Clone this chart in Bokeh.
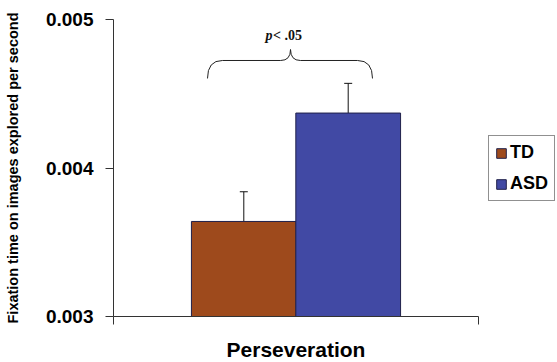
from bokeh.plotting import figure
from bokeh.models import (Range1d, FixedTicker, Whisker, ColumnDataSource, Legend,
                          LegendItem, Label, TeeHead)
from bokeh.embed import file_html
from bokeh.resources import INLINE

# ---- data ----
groups = ["TD", "ASD"]
means = [0.00364, 0.00437]
errors = [0.0002, 0.0002]
colors = ["#9E4A1C", "#4149A4"]
category = "Perseveration"
y_ticks = [0.003, 0.004, 0.005]
p_text = "< .05"

# positions (layout)
xc = [0.357, 0.643]
bw = 0.287

p = figure(frame_width=365, frame_height=297, output_backend="svg", toolbar_location=None,
           x_range=Range1d(0, 1), y_range=Range1d(0.003, 0.005),
           min_border_left=113, min_border_right=0, min_border_top=19,
           min_border_bottom=46)
p.outline_line_color = None
p.xgrid.visible = False
p.ygrid.visible = False
p.background_fill_color = "white"

renderers = []
for i, g in enumerate(groups):
    src = ColumnDataSource(dict(x=[xc[i]], top=[means[i]]))
    r = p.vbar(x="x", top="top", bottom=0.003, width=bw, source=src,
               fill_color=colors[i], line_color="#20204a", line_width=1)
    renderers.append(r)

esrc = ColumnDataSource(dict(x=xc, lo=[m - e for m, e in zip(means, errors)],
                             hi=[m + e for m, e in zip(means, errors)]))
w = Whisker(base="x", lower="lo", upper="hi", source=esrc, line_color="#111111",
            line_width=1,
            lower_head=TeeHead(size=8, line_color="#111111", line_width=1),
            upper_head=TeeHead(size=8, line_color="#111111", line_width=1))
p.add_layout(w)

# brace annotation (significance bracket)
x0, x1 = 0.2575, 0.7096
xm = 0.485
yb, yh, yp = 0.004603, 0.004724, 0.004798
d = 0.041
e = 0.027
p.quadratic(x0=[x0, xm - e, xm, x1 - d],
            y0=[yb, yh, yp, yh],
            x1=[x0 + d, xm, xm + e, x1],
            y1=[yh, yp, yh, yb],
            cx=[x0, xm, xm, x1],
            cy=[yh, yh, yh, yh], line_color="#222222", line_width=1)
p.segment(x0=[x0 + d, xm + e], y0=[yh, yh], x1=[xm - e, x1 - d], y1=[yh, yh],
          line_color="#222222", line_width=1)
p.add_layout(Label(x=0.4164, y=0.004892, text="p", text_font="Liberation Serif",
                   text_font_style="bold italic", text_font_size="14px",
                   text_baseline="middle", text_color="#111111"))
p.add_layout(Label(x=0.437, y=0.004892, text=p_text,
                   text_font="Liberation Serif", text_font_style="bold",
                   text_font_size="14px",
                   text_baseline="middle", text_color="#111111"))

# axes
p.yaxis.ticker = FixedTicker(ticks=y_ticks)
p.yaxis.major_label_overrides = {t: f"{t:.3f}" for t in y_ticks}
p.yaxis.major_label_text_font = "Liberation Sans"
p.yaxis.major_label_text_font_style = "bold"
p.yaxis.major_label_text_font_size = "19px"
p.yaxis.major_label_text_color = "black"
p.yaxis.major_tick_out = 8
p.yaxis.major_tick_in = 0
p.yaxis.minor_tick_line_color = None
p.yaxis.axis_line_color = "#333333"
p.yaxis.major_tick_line_color = "#333333"
p.yaxis.major_label_standoff = 12
p.yaxis.axis_label = "Fixation time on images explored per second"
p.yaxis.axis_label_text_font = "Liberation Sans"
p.yaxis.axis_label_text_font_style = "bold"
p.yaxis.axis_label_text_font_size = "14.5px"
p.yaxis.axis_label_text_color = "black"
p.yaxis.axis_label_standoff = 22

p.xaxis.ticker = FixedTicker(ticks=[0, 1])
p.xaxis.major_label_overrides = {0: "", 1: ""}
p.xaxis.major_label_text_font_size = "1px"
p.xaxis.major_tick_out = 8
p.xaxis.major_tick_in = 0
p.xaxis.minor_tick_line_color = None
p.xaxis.axis_line_color = "#333333"
p.xaxis.major_tick_line_color = "#333333"
p.xaxis.axis_label = category
p.xaxis.axis_label_text_font = "Liberation Sans"
p.xaxis.axis_label_text_font_style = "bold"
p.xaxis.axis_label_text_font_size = "21px"
p.xaxis.axis_label_text_color = "black"
p.xaxis.axis_label_standoff = 13

legend = Legend(items=[LegendItem(label=g, renderers=[r]) for g, r in zip(groups, renderers)],
                location=(10, 115), border_line_color="#222222", border_line_width=1,
                label_text_font="Liberation Sans", label_text_font_style="bold",
                label_text_font_size="18px", label_text_color="black",
                glyph_width=12, glyph_height=12,
                label_standoff=3, padding=6, spacing=10, label_height=20,
                background_fill_alpha=1.0, margin=0)
p.add_layout(legend, "right")

open("out.html", "w").write(file_html(p, INLINE))
